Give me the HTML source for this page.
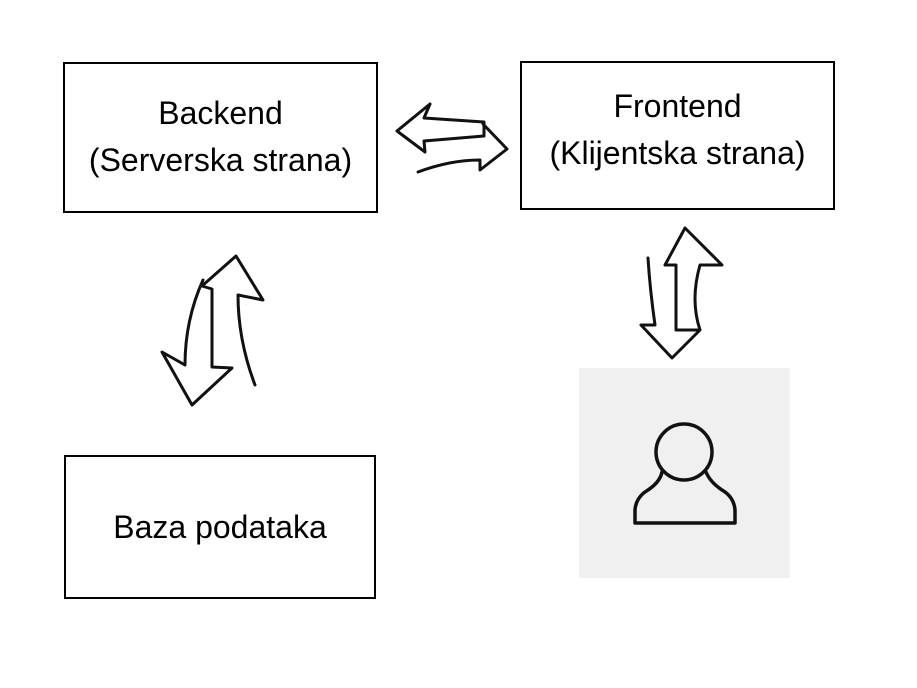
<!DOCTYPE html>
<html><head><style>
body{margin:0;width:917px;height:688px;background:#fff;position:relative;overflow:hidden;font-family:"Liberation Sans",sans-serif}
.b{position:absolute;border:2px solid #000;box-sizing:border-box;display:flex;align-items:center;justify-content:center;text-align:center;font-size:32px;line-height:47px;color:#000}
</style></head><body>
<div class="b" style="left:63px;top:62px;width:315px;height:151px;padding-bottom:2px">Backend<br>(Serverska strana)</div>
<div class="b" style="left:520px;top:61px;width:315px;height:149px;padding-bottom:12px">Frontend<br>(Klijentska strana)</div>
<div class="b" style="left:64px;top:455px;width:312px;height:144px">Baza podataka</div>
<div style="position:absolute;left:579px;top:368px;width:211px;height:210px;background:#f0f0f0"></div>
<svg width="917" height="688" style="position:absolute;left:0;top:0" fill="none" stroke="#111" stroke-width="3" stroke-linejoin="round" stroke-linecap="round">
<path d="M430,104 L397,131 L425,152 L424,141 L484,136 L484,122 L424,118 L430,104"/>
<path d="M483,124 L507,149 L480,170 L480,160 Q450,160 418,172"/>
<path d="M255,385 Q238,340 238,295 L263,300 L236,256 L202,286 L212,289 L212,367 L232,368 L192,405 L162,352 L185,365 Q185,320 203,280"/>
<path d="M700,330 Q690,300 700,265 L722,265 L685,228 L665,265 L676,265 L676,330 L700,330 L672,358 L641,325 L655,325 Q650,290 648,258"/>
<circle cx="684" cy="452" r="28" stroke-width="3.5"/>
<path d="M662,472 Q660,482 648,490 Q636,497 635,510 L635,523 L735,523 L735,510 Q734,497 722,490 Q710,482 706,472" stroke-width="3.5"/>
</svg>
</body></html>
